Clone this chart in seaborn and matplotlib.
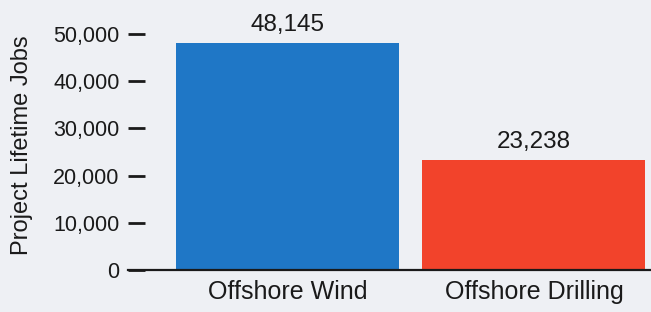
import matplotlib
matplotlib.use("Agg")
import matplotlib.pyplot as plt
import seaborn as sns
import pandas as pd
from matplotlib.ticker import FuncFormatter

categories = ["Offshore Wind", "Offshore Drilling"]
jobs = [48145, 23238]
bar_colors = ["#1f77c6", "#f2432b"]
y_ticks = [0, 10000, 20000, 30000, 40000, 50000]
y_label = "Project Lifetime Jobs"

sns.set_theme(style="white")
plt.rcParams["font.family"] = ["Liberation Sans", "DejaVu Sans"]

bg = "#eef0f4"
df = pd.DataFrame({"category": categories, "jobs": jobs})

fig = plt.figure(figsize=(6.51, 3.12), dpi=100, facecolor=bg)
ax = fig.add_axes([128 / 651, 42 / 312, 523 / 651, 259.6 / 312])
ax.set_facecolor(bg)

sns.barplot(data=df, x="category", y="jobs", hue="category",
            palette=bar_colors, legend=False, width=0.905, ax=ax,
            saturation=1, edgecolor="none")

ax.set_xlim(-0.647, 1.475)
ax.set_ylim(0, 55000)
ax.set_yticks(y_ticks)
ax.yaxis.set_major_formatter(FuncFormatter(lambda v, p: f"{int(v):,}"))

for s in ["left", "right", "top"]:
    ax.spines[s].set_visible(False)
ax.spines["bottom"].set_color("#1a1a1a")
ax.spines["bottom"].set_linewidth(1.6)

ax.tick_params(axis="y", left=True, direction="in", length=12.5, width=2.0,
               color="#1a1a1a", pad=6, labelsize=15.5, labelcolor="#1a1a1a")
ax.tick_params(axis="x", bottom=False, length=0, pad=7, labelsize=18,
               labelcolor="#1a1a1a")

ax.set_xlabel("")
ax.set_ylabel(y_label, fontsize=17, color="#1a1a1a")
ax.yaxis.set_label_coords(-0.182, 0.48)

for cont in ax.containers:
    ax.bar_label(cont, labels=[f"{int(v):,}" for v in cont.datavalues],
                 padding=5, fontsize=17.5, color="#1a1a1a")

fig.savefig("out.png", dpi=100, facecolor=bg)
